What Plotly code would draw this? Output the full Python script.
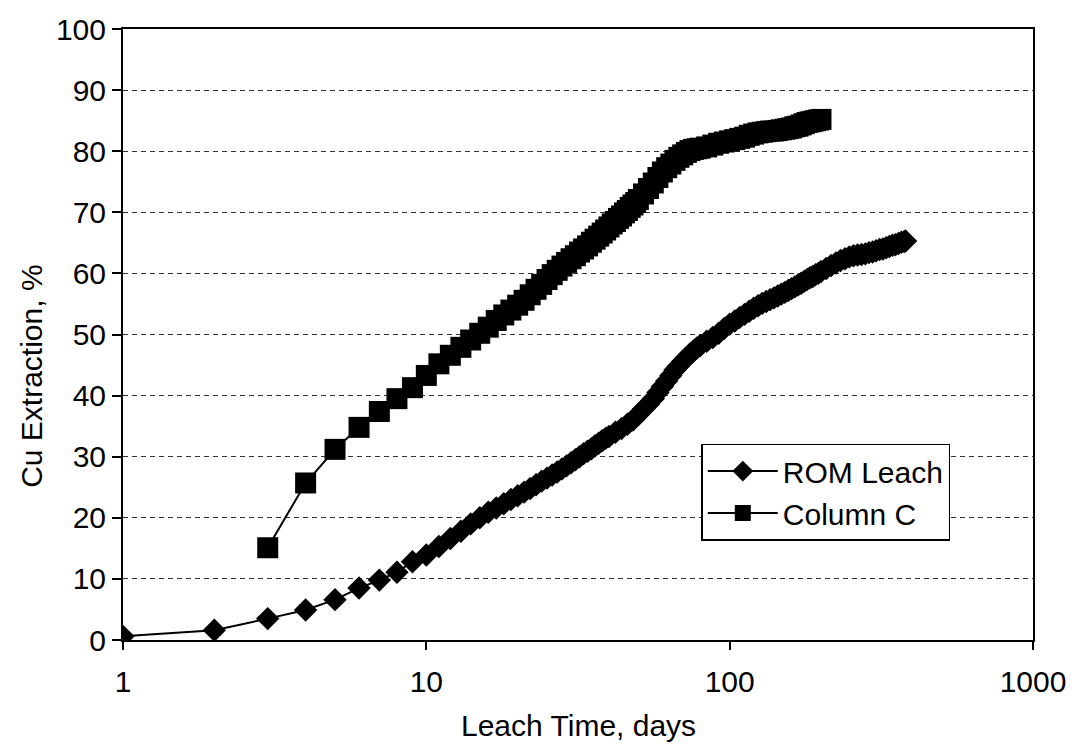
import plotly.graph_objects as go

# ROM Leach series (day, Cu extraction %)
rom_days = [1, 2, 3, 4, 5, 6, 7, 8, 9, 10, 11, 12, 13, 14, 15, 16, 17, 18, 19, 20,
            21, 22, 23, 24, 25, 26, 27, 28, 29, 30, 31, 32, 33, 34, 35, 36, 37, 38, 39, 40,
            42, 44, 46, 48, 50, 52, 54, 56, 58, 60, 62, 64, 66, 68, 70, 72, 74, 76, 78, 80,
            84, 88, 92, 96, 100, 104, 108, 112, 116, 120, 124, 128, 132, 136, 140, 144,
            148, 152, 156, 160, 164, 168, 172, 176, 180, 184, 188, 192, 196, 200,
            208, 216, 224, 232, 240, 248, 256, 264, 272, 280, 288, 296, 304, 312, 320,
            328, 336, 344, 352, 360, 368, 376, 380]
rom_ext = [0.6, 1.6, 3.5, 4.9, 6.6, 8.5, 9.8, 11.1, 12.8, 13.9, 15.3, 16.6, 17.8, 19.0,
           20.0, 20.9, 21.6, 22.3, 23.0, 23.6,
           24.2, 24.8, 25.4, 26.0, 26.5, 27.0, 27.5, 28.0, 28.5, 29.0, 29.5, 30.0, 30.5,
           30.9, 31.3, 31.8, 32.2, 32.6, 33.0, 33.3,
           34.0, 34.6, 35.3, 36.0, 36.9, 37.8, 38.6, 39.5, 40.5, 41.5, 42.4, 43.3, 44.2,
           44.9, 45.6, 46.2, 46.8, 47.3, 47.8, 48.2,
           48.9, 49.5, 50.2, 51.0, 51.7, 52.2, 52.8, 53.3, 53.8, 54.3, 54.7, 55.1, 55.4,
           55.7, 56.0, 56.3, 56.6, 56.9, 57.2, 57.5, 57.8, 58.1, 58.4, 58.7, 59.0, 59.3,
           59.5, 59.8, 60.0, 60.3,
           60.8, 61.3, 61.7, 62.1, 62.4, 62.7, 62.9, 63.0, 63.1, 63.2, 63.4, 63.5, 63.7,
           63.9, 64.0, 64.2, 64.4, 64.6, 64.7, 64.9, 65.1, 65.2, 65.3]

# Column C series (day, Cu extraction %)
colc_days = [3, 4, 5, 6, 7, 8, 9, 10, 11, 12, 13, 14, 15, 16, 17, 18, 19, 20,
             21, 22, 23, 24, 25, 26, 27, 28, 29, 30, 31, 32, 33, 34, 35, 36, 37, 38, 39,
             40, 41, 42, 43, 44, 45, 46, 47, 48, 49, 50,
             52, 54, 56, 58, 60, 62, 64, 66, 68, 70, 72, 74, 76, 78, 80,
             84, 88, 92, 96, 100, 104, 108, 112, 116, 120, 124, 128, 132, 136, 140,
             144, 148, 152, 156, 160, 164, 168, 172, 176, 180, 184, 188, 192, 196, 200]
colc_ext = [15.1, 25.7, 31.2, 34.8, 37.4, 39.5, 41.3, 43.3, 45.2, 46.6, 47.9, 49.1,
            50.2, 51.2, 52.3, 53.2, 54.0, 54.8,
            55.6, 56.5, 57.4, 58.2, 59.0, 59.8, 60.5, 61.2, 61.8, 62.4, 62.9, 63.5, 64.0,
            64.5, 65.1, 65.6, 66.1, 66.6, 67.1, 67.6, 68.1, 68.5, 69.0, 69.4, 69.9, 70.3,
            70.8, 71.2, 71.6, 72.1,
            73.0, 73.9, 74.8, 75.7, 76.6, 77.3, 77.9, 78.5, 79.0, 79.4, 79.8, 80.1, 80.3,
            80.4, 80.5,
            80.7, 81.0, 81.3, 81.5, 81.7, 81.9, 82.1, 82.3, 82.6, 82.8, 83.0, 83.1, 83.2,
            83.3, 83.3, 83.4, 83.5, 83.6, 83.7, 83.8, 84.0, 84.1, 84.3, 84.5, 84.7, 84.8,
            84.9, 85.0, 85.1, 85.2]

x_ticks = [1, 10, 100, 1000]
x_tick_text = ["1", "10", "100", "1000"]
y_ticks = [0, 10, 20, 30, 40, 50, 60, 70, 80, 90, 100]

FONT = "Liberation Sans, Arial, sans-serif"
FS = 30

fig = go.Figure()
fig.add_trace(go.Scatter(
    x=rom_days, y=rom_ext, mode="lines+markers", name="ROM Leach",
    legendgroup="a",
    line=dict(color="black", width=2),
    marker=dict(symbol="diamond", size=18, color="black"),
))
fig.add_trace(go.Scatter(
    x=colc_days, y=colc_ext, mode="lines+markers", name="Column C",
    legendgroup="b",
    line=dict(color="black", width=2),
    marker=dict(symbol="square", size=21, color="black"),
))

fig.update_layout(
    width=1078, height=751,
    margin=dict(l=123, r=36, t=27, b=111),
    paper_bgcolor="white", plot_bgcolor="white",
    font=dict(family=FONT, size=FS, color="black"),
    showlegend=True,
    legend=dict(
        x=0.6355, y=0.3214, xanchor="left", yanchor="top",
        bgcolor="white", bordercolor="black", borderwidth=1.5,
        font=dict(family=FONT, size=FS, color="black"),
        tracegroupgap=0, traceorder="grouped", itemwidth=70,
    ),
    xaxis=dict(
        type="log", range=[0, 3],
        tickvals=x_ticks, ticktext=x_tick_text,
        ticks="outside", ticklen=8, tickwidth=1.5, tickcolor="black",
        ticklabelstandoff=6,
        showgrid=False, zeroline=False,
        showline=True, linecolor="black", linewidth=2, mirror=True,
        tickfont=dict(family=FONT, size=FS),
    ),
    yaxis=dict(
        range=[0, 100], tickvals=y_ticks,
        ticks="outside", ticklen=9, tickwidth=1.5, tickcolor="black",
        showgrid=True, gridcolor="#333333", gridwidth=1, griddash="5px,4px",
        zeroline=False,
        showline=True, linecolor="black", linewidth=2, mirror=True,
        tickfont=dict(family=FONT, size=FS),
    ),
    annotations=[
        dict(text="Cu Extraction, %", xref="paper", yref="paper",
             x=-0.100, y=0.4307, xanchor="center", yanchor="middle",
             textangle=-90, showarrow=False, font=dict(family=FONT, size=FS)),
        dict(text="Leach Time, days", xref="paper", yref="paper",
             x=0.5, y=-0.1403, xanchor="center", yanchor="middle",
             showarrow=False, font=dict(family=FONT, size=FS)),
    ],
)

fig.write_html("out.html")
